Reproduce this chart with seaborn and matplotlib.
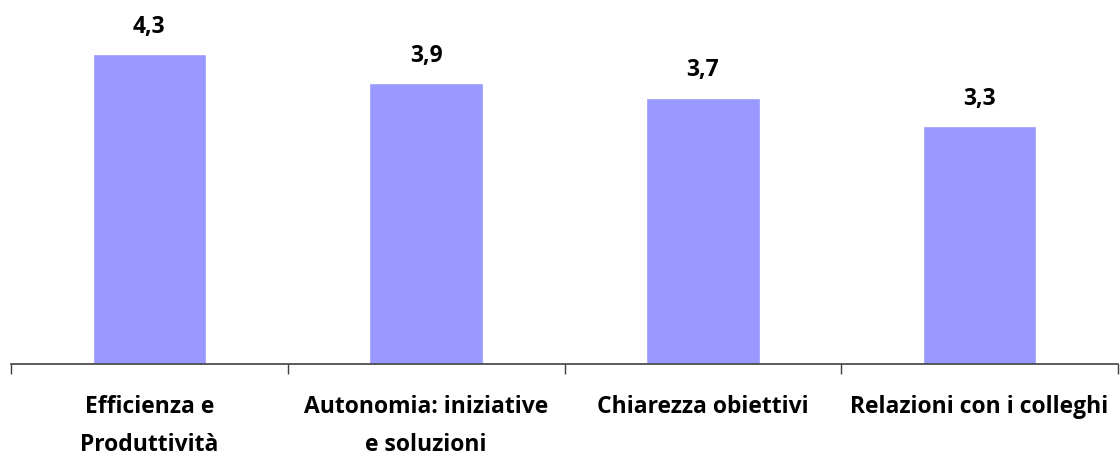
import numpy as np
import pandas as pd
import matplotlib
matplotlib.use("Agg")
import matplotlib.pyplot as plt
import seaborn as sns

categories = ["Efficienza e\nProduttività", "Autonomia: iniziative\ne soluzioni",
              "Chiarezza obiettivi", "Relazioni con i colleghi"]
values = [4.3, 3.9, 3.7, 3.3]
value_labels = ["4,3", "3,9", "3,7", "3,3"]

sns.set_style("white")
plt.rcParams['font.family'] = ['Open Sans', 'DejaVu Sans']
plt.rcParams['text.color'] = 'black'
plt.rcParams['xtick.color'] = 'black'

df = pd.DataFrame({"cat": categories, "val": values})

fig = plt.figure(figsize=(11.2, 4.57), dpi=100)
ax = fig.add_axes([11 / 1120, 93 / 457, 1107 / 1120, 360 / 457])
sns.barplot(data=df, x="cat", y="val", color="#9999FF", saturation=1,
            width=0.41, ax=ax)

ax.set_ylim(0, 5)
ax.set_xlim(-0.5, 3.5)
ax.set_xlabel("")
ax.set_ylabel("")
ax.set_yticks([])
for s in ["top", "right", "left"]:
    ax.spines[s].set_visible(False)
ax.spines["bottom"].set_color("#404040")
ax.spines["bottom"].set_linewidth(1.2)

# ticks between categories, labels centred
ax.set_xticks(np.arange(-0.5, 4, 1), minor=True)
ax.tick_params(axis="x", which="minor", length=7, width=1, color="#404040",
               direction="out", bottom=True)
ax.tick_params(axis="x", which="major", length=0, pad=22, labelcolor="black")
ax.set_xticks(range(len(categories)))
ax.set_xticklabels(categories, fontsize=16.5, fontweight="bold", linespacing=1.78)

for i, (v, lab) in enumerate(zip(values, value_labels)):
    ax.annotate(lab, (i, v), xytext=(0, 15.5), textcoords="offset points",
                ha="center", va="baseline", fontsize=16.5, fontweight="bold",
                color="black")

fig.savefig("out.png", dpi=100)
